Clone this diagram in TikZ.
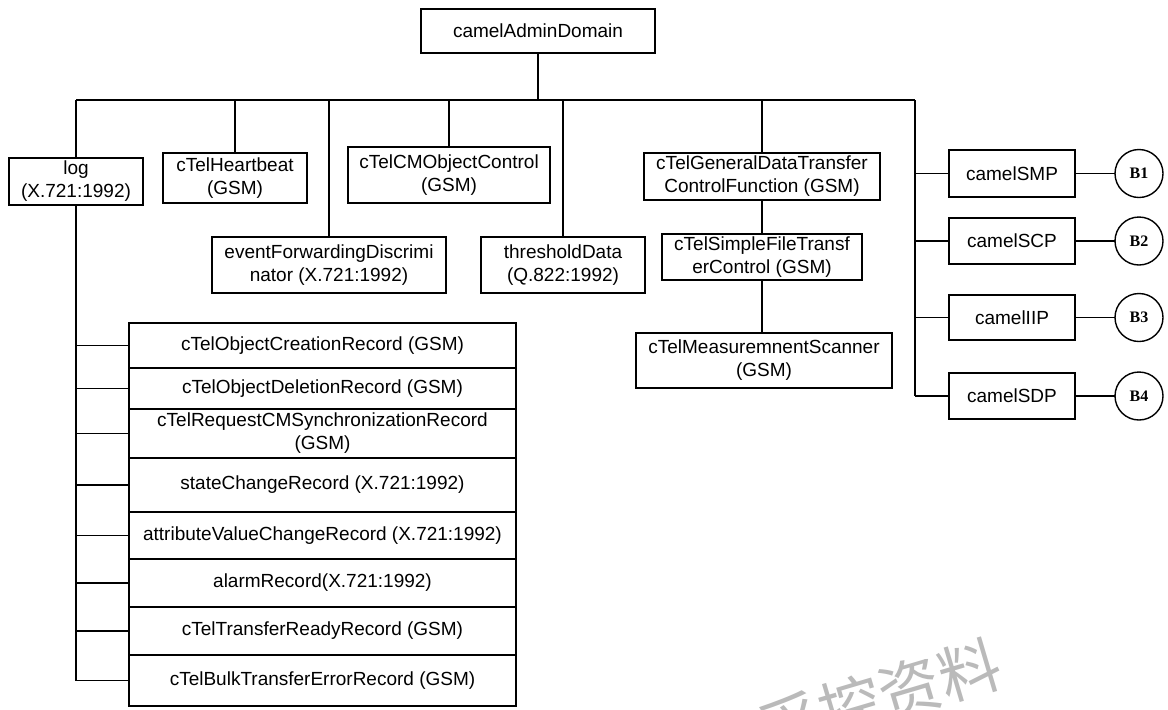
\documentclass[tikz,border=0pt]{standalone}
\usepackage{fontspec}
\setmainfont{Liberation Sans}
\newfontfamily\circfont{Liberation Serif}
\newfontfamily\cjkfont{Noto Sans CJK SC}

\begin{document}
\begin{tikzpicture}[x=0.5pt, y=-0.5pt, line width=0.7pt,
  box/.style={draw, inner sep=0pt, outer sep=0pt, align=center,
    font=\fontsize{9.5}{11.5}\selectfont},
  rec/.style={box, minimum width=193.5pt},
  camel/.style={box, minimum width=63pt},
  circ/.style={draw, circle, minimum size=24pt, inner sep=0pt, outer sep=0pt,
    font=\circfont\bfseries\fontsize{8}{9}\selectfont},
  stamp/.style={text=black!27, inner sep=0pt,
    font=\cjkfont\fontsize{31}{31}\selectfont}]

\useasboundingbox (0,0) rectangle (1168,709);

% root
\node[box, minimum width=117pt, minimum height=22pt] (root) at (538,31) {camelAdminDomain};

% first level
\node[box, minimum width=67pt,  minimum height=23.5pt] (log) at (76,181.5) {log\\(X.721:1992)};
\node[box, minimum width=72pt,  minimum height=25pt]   (hb)  at (235,178)  {cTelHeartbeat\\(GSM)};
\node[box, minimum width=101pt, minimum height=28pt]   (cmo) at (449,175)  {cTelCMObjectControl\\(GSM)};
\node[box, minimum width=117pt, minimum height=28pt]   (efd) at (329,265)  {eventForwardingDiscrimi\\nator (X.721:1992)};
\node[box, minimum width=82pt,  minimum height=28pt]   (thr) at (563,265)  {thresholdData\\(Q.822:1992)};
\node[box, minimum width=118pt, minimum height=23.5pt] (gdt) at (762,176.5) {cTelGeneralDataTransfer\\ControlFunction (GSM)};
\node[box, minimum width=100pt, minimum height=23pt]   (sft) at (762,257)  {cTelSimpleFileTransf\\erControl (GSM)};
\node[box, minimum width=128pt, minimum height=27.5pt] (msc) at (764,360.5) {cTelMeasuremnentScanner\\(GSM)};

% camel boxes and off-page references
\node[camel, minimum height=23.5pt] (smp) at (1012,173.5) {camelSMP};
\node[camel, minimum height=23pt]   (scp) at (1012,241)   {camelSCP};
\node[camel, minimum height=22.5pt] (iip) at (1012,317.5) {camelIIP};
\node[camel, minimum height=23pt]   (sdp) at (1012,396)   {camelSDP};
\node[circ] (b1) at (1139,173.5) {B1};
\node[circ] (b2) at (1139,241)   {B2};
\node[circ] (b3) at (1139,317.5) {B3};
\node[circ] (b4) at (1139,396)   {B4};

% log records
\node[rec, minimum height=22.5pt] (r1) at (322.5,345.5) {cTelObjectCreationRecord (GSM)};
\node[rec, minimum height=20.5pt] (r2) at (322.5,388.5) {cTelObjectDeletionRecord (GSM)};
\node[rec, minimum height=24.5pt] (r3) at (322.5,433.5) {cTelRequestCMSynchronizationRecord\\(GSM)};
\node[rec, minimum height=27pt]   (r4) at (322.5,485)   {stateChangeRecord (X.721:1992)};
\node[rec, minimum height=23.5pt] (r5) at (322.5,535.5) {attributeValueChangeRecord (X.721:1992)};
\node[rec, minimum height=24pt]   (r6) at (322.5,583)   {alarmRecord(X.721:1992)};
\node[rec, minimum height=24pt]   (r7) at (322.5,631)   {cTelTransferReadyRecord (GSM)};
\node[rec, minimum height=25.5pt] (r8) at (322.5,680.5) {cTelBulkTransferErrorRecord (GSM)};

% bus
\coordinate (busL) at (76,100);
\coordinate (busR) at (915,100);
\draw (root.south) -- (root.south |- busL);
\draw (busL) -- (busR);
\foreach \n in {log,hb,cmo,efd,thr,gdt}
  \draw (\n.north) -- (\n.north |- busL);
\draw (gdt.south) -- (sft.north);
\draw (sft.south) -- (sft.south |- msc.north);

% log tree
\draw (log.south) -- (log.south |- r8.west);
\foreach \n in {r1,r2,r3,r4,r5,r6,r7,r8}
  \draw (\n.west) -- (\n.west -| log.south);

% camel tree
\draw (busR) -- (busR |- sdp.west);
\foreach \n/\b in {smp/b1,scp/b2,iip/b3,sdp/b4} {
  \draw (\n.west) -- (\n.west -| busR);
  \draw (\n.east) -- (\b.west);
}

% stamp
\begin{scope}
  \clip (0,0) rectangle (1168,709);
  \node[stamp, rotate=16.5] (wm) at (880,697) {采控资料};
\end{scope}
\end{tikzpicture}
\end{document}
